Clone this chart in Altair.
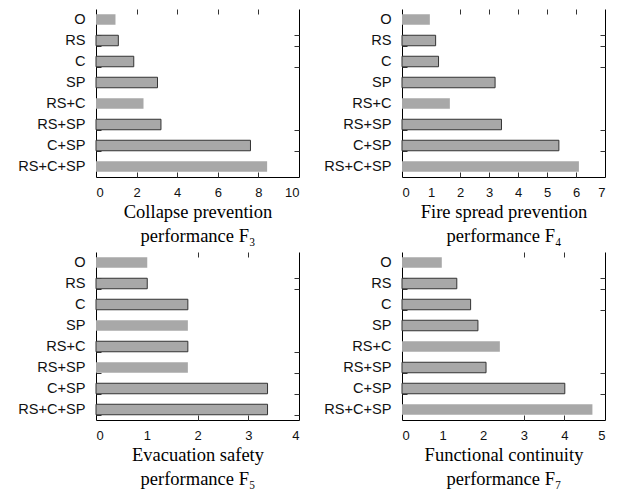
import altair as alt
import pandas as pd

categories = ["O", "RS", "C", "SP", "RS+C", "RS+SP", "C+SP", "RS+C+SP"]

f3 = [0.96, 1.10, 1.86, 3.03, 2.34, 3.20, 7.61, 8.43]
f4 = [0.96, 1.16, 1.26, 3.21, 1.65, 3.43, 5.41, 6.10]
f5 = [1.01, 1.01, 1.81, 1.81, 1.81, 1.81, 3.38, 3.38]
f7 = [0.98, 1.35, 1.69, 1.87, 2.41, 2.07, 4.01, 4.69]

# 1 = bar drawn with a dark outline
f3_edge = [0, 1, 1, 1, 0, 1, 1, 0]
f4_edge = [0, 1, 1, 1, 0, 1, 1, 0]
f5_edge = [0, 1, 1, 0, 1, 0, 1, 1]
f7_edge = [0, 1, 1, 1, 0, 1, 1, 0]

titles = [
    ["Collapse prevention", "performance F\u2083"],
    ["Fire spread prevention", "performance F\u2084"],
    ["Evacuation safety", "performance F\u2085"],
    ["Functional continuity", "performance F\u2087"],
]
x_max = [10, 7, 4, 5]
x_labels = [[0, 2, 4, 6, 8, 10], [0, 1, 2, 3, 4, 5, 6, 7], [0, 1, 2, 3, 4], [0, 1, 2, 3, 4, 5]]
x_inner = [[2, 4, 6, 8], [2, 3, 4, 5, 6], [2, 3], [3, 4]]
y_inner = [["RS", "C", "RS+SP", "C+SP"], ["RS", "C", "RS+SP", "C+SP"],
           ["RS", "RS+C", "RS+SP", "C+SP", "RS+C+SP"], ["RS", "C", "RS+SP", "C+SP"]]

SANS = "Liberation Sans"
SERIF = "Liberation Serif"
W, H = 203, 168


def panel(vals, edge, i):
    df = pd.DataFrame({"cat": categories, "v": vals, "edge": edge})
    xs = alt.Scale(domain=[0, x_max[i]], nice=False, zero=True)
    ys = alt.Scale(paddingInner=0.5, paddingOuter=0.25)

    def Y(axis):
        return alt.Y("cat:N", sort=categories, scale=ys, axis=axis)

    def X(axis):
        return alt.X("v:Q", scale=xs, axis=axis)

    tick_only = dict(labels=False, domain=False, ticks=True, tickSize=5, offset=-5,
                     tickColor="#333", tickWidth=1, grid=False, title=None)

    bars = alt.Chart(df).mark_bar(fill="#a8a8a8", stroke="#333", strokeWidth=1).encode(
        x=X(alt.Axis(orient="bottom", values=x_labels[i], ticks=False, tickSize=0, grid=False,
                     domain=True, domainColor="black", domainWidth=1,
                     labelFont=SANS, labelFontSize=13, labelColor="#111", labelPadding=9,
                     title=titles[i], titleFont=SERIF, titleFontSize=18.5, titleFontWeight="normal",
                     titleColor="black", titleLineHeight=24, titlePadding=3)),
        y=Y(alt.Axis(orient="left", ticks=False, tickSize=0, grid=False, domain=True,
                     domainColor="black", domainWidth=1, labelFont=SANS, labelFontSize=14.6,
                     labelColor="#111", labelPadding=11, title=None)),
        strokeOpacity=alt.condition("datum.edge == 1", alt.value(1), alt.value(0)),
    )
    l2 = alt.Chart(df).mark_bar(opacity=0).encode(
        x=X(alt.Axis(orient="top", values=x_inner[i], **tick_only)),
        y=Y(alt.Axis(orient="right", labels=False, ticks=False, grid=False, domain=True,
                     domainColor="black", domainWidth=1, title=None)),
    )
    l3 = alt.Chart(df).mark_bar(opacity=0).encode(
        x=X(alt.Axis(orient="bottom", values=x_inner[i], **tick_only)),
        y=Y(alt.Axis(orient="right", values=y_inner[i], tickBand="extent", **tick_only)),
    )
    l4 = alt.Chart(df).mark_bar(opacity=0).encode(
        x=X(None),
        y=Y(alt.Axis(orient="left", values=y_inner[i], tickBand="extent", **tick_only)),
    )
    return alt.layer(bars, l2, l3, l4).resolve_axis(x="independent", y="independent").properties(
        width=W, height=H)


chart = alt.concat(
    panel(f3, f3_edge, 0),
    panel(f4, f4_edge, 1),
    panel(f5, f5_edge, 2),
    panel(f7, f7_edge, 3),
    columns=2,
    spacing={"row": 6, "column": 23},
).properties(
    padding={"left": 9, "top": 0, "right": 5, "bottom": 4}
).configure_view(stroke=None)

chart.save("out.html", embed_options={"renderer": "svg", "actions": False})
